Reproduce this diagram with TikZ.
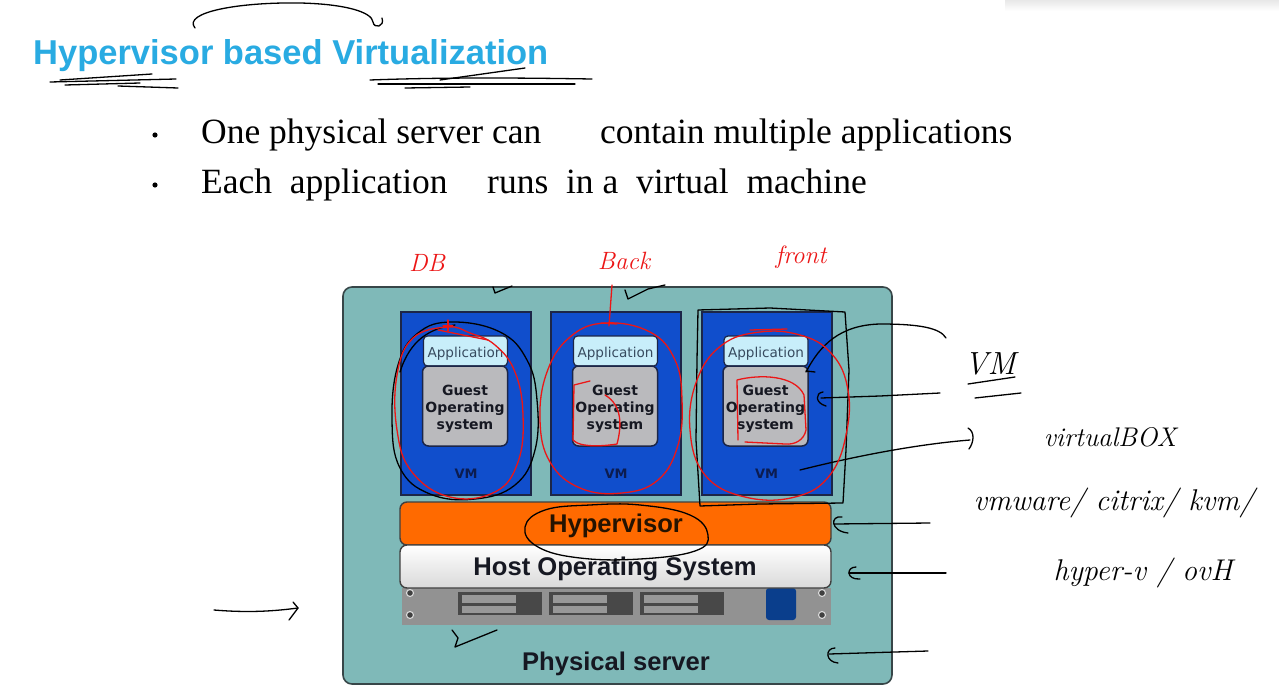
\documentclass[tikz,border=0pt]{standalone}
\usepackage{fontspec}
\setmainfont{Liberation Serif}
\newfontfamily\arialf{Liberation Sans}
\newfontfamily\dejavuf{DejaVu Sans}
\newfontfamily\handf{Latin Modern Roman}
\usetikzlibrary{calc}

\definecolor{titleblue}{RGB}{41,171,226}
\definecolor{servteal}{RGB}{127,185,184}
\definecolor{servedge}{RGB}{55,70,72}
\definecolor{vmblue}{RGB}{16,78,204}
\definecolor{vmedge}{RGB}{28,38,72}
\definecolor{vmlabel}{RGB}{12,28,80}
\definecolor{appfill}{RGB}{200,238,250}
\definecolor{apptext}{RGB}{55,75,95}
\definecolor{guestfill}{RGB}{186,186,189}
\definecolor{hypfill}{RGB}{255,106,0}
\definecolor{hostfill}{RGB}{236,236,236}
\definecolor{rackfill}{RGB}{146,146,146}
\definecolor{baydark}{RGB}{72,72,72}
\definecolor{slotgrey}{RGB}{152,152,152}
\definecolor{btnblue}{RGB}{10,62,140}
\definecolor{inkred}{RGB}{236,22,22}
\definecolor{darktext}{RGB}{22,24,34}

\begin{document}
\begin{tikzpicture}[x=1pt,y=-1pt,
  serverbox/.style={draw=servedge,line width=1.6pt,fill=servteal,rounded corners=9pt,
    inner sep=0pt,outer sep=0pt,minimum width=549pt,minimum height=397pt},
  vmbox/.style={draw=vmedge,line width=2pt,fill=vmblue,inner sep=0pt,outer sep=0pt,
    minimum width=130pt,minimum height=183pt},
  appbox/.style={draw=vmedge,line width=1.2pt,fill=appfill,rounded corners=4pt,inner sep=0pt,
    minimum width=84pt,minimum height=30pt},
  apptxt/.style={anchor=base,inner sep=0pt,text=apptext,font=\dejavuf\fontsize{13.6}{15}\selectfont},
  guestbox/.style={draw=vmedge,line width=1.5pt,fill=guestfill,rounded corners=6pt,inner sep=0pt,
    minimum width=85pt,minimum height=80pt},
  guesttxt/.style={align=center,inner sep=0pt,text=darktext,
    font=\dejavuf\bfseries\fontsize{14}{17}\selectfont},
  vmtext/.style={anchor=base,inner sep=0pt,text=vmlabel,font=\dejavuf\bfseries\fontsize{13}{14}\selectfont},
  layerbar/.style={draw=black!75,line width=1.4pt,rounded corners=7pt,inner sep=0pt,
    minimum width=431pt,minimum height=43pt},
  layertext/.style={anchor=base,inner sep=0pt,font=\arialf\bfseries\fontsize{25.6}{28}\selectfont},
  rackstrip/.style={fill=rackfill,inner sep=0pt,outer sep=0pt,minimum width=429pt,minimum height=37pt},
  bay/.style={fill=baydark,inner sep=0pt,minimum width=84pt,minimum height=23pt},
  screw/.style={circle,fill=black!75,draw=white!85!black,line width=1.1pt,inner sep=0pt,minimum size=7pt},
  bullettext/.style={anchor=base west,inner sep=0pt,font=\fontsize{35.5}{40}\selectfont},
  hand/.style={draw=black,line width=1.3pt,line cap=round,line join=round},
  redhand/.style={draw=inkred,line width=1.3pt,line cap=round,line join=round},
  handtext/.style={inner sep=0pt,font=\handf\itshape\fontsize{30}{32}\selectfont},
  redtext/.style={inner sep=0pt,text=inkred,font=\handf\itshape\fontsize{25}{28}\selectfont}
]
\useasboundingbox (0,0) rectangle (1279,685);
\fill[white] (0,0) rectangle (1279,685);
\shade[top color=black!9,bottom color=white] (1005,0) rectangle (1279,11);

% ---- title and bullet points ----
\node[anchor=base west,inner sep=0pt,text=titleblue,font=\arialf\bfseries\fontsize{34.5}{40}\selectfont]
  (title) at (33,65) {Hypervisor based Virtualization};

\fill (155,135) circle (2.6pt) coordinate (b1);
\fill (155,185) circle (2.6pt) coordinate (b2);
\node[bullettext] (l1a) at (201,143) {One physical server can};
\node[bullettext] (l1b) at (600,143) {contain multiple applications};
\node[bullettext] (l2a) at (201,193) {Each\ \ application};
\node[bullettext] (l2b) at (487,193) {runs\ \ in a\ \ virtual\ \ machine};

% ---- physical server ----
\node[serverbox] (server) at (617.5,485.5) {};

\foreach \i/\x in {1/466,2/616,3/766.5}{
  \node[vmbox] (vm\i) at (\x,403.5) {};
  \node[appbox] (app\i) at (\x-0.5,351) {};
  \node[apptxt] (apptext\i) at (\x-0.5,357) {Application};
  \node[guestbox] (guest\i) at (\x-1,406) {};
  \node[guesttxt] (guesttext\i) at (\x-1,408.5) {Guest\\Operating\\system};
  \node[vmtext] (vmlab\i) at (\x,478) {VM};
}

% rack unit of the server
\node[rackstrip] (rack) at (616.5,606.5) {};
\foreach \x [count=\k] in {458,549,640}{
  \node[bay,anchor=north west] (bay\k) at (\x,592) {};
  \fill[slotgrey] (\x+4,595) rectangle (\x+58,603);
  \fill[slotgrey] (\x+4,606) rectangle (\x+58,613);
}
\node[fill=btnblue,rounded corners=3pt,inner sep=0pt,minimum width=30pt,minimum height=32pt]
  (button) at (781,604) {};
\node[screw] (s1) at (410,593) {};
\node[screw] (s2) at (410,615) {};
\node[screw] (s3) at (822,593) {};
\node[screw] (s4) at (822,615) {};

\node[layerbar,fill=hypfill] (hyper) at (615.5,523.5) {};
\node[layertext,text=black!85!orange] (hypertext) at (616,532.5) {Hypervisor};
\node[layerbar,top color=white,bottom color=hostfill!92!black] (host) at (615.5,566.5) {};
\node[layertext,text=darktext] (hosttext) at (615,575.5) {Host Operating System};
\node[layertext,text=darktext] (phystext) at (616,670.5) {Physical server};

% ---- pen annotations, black ink ----
\draw[hand] (195,28) .. controls (182,12) and (240,2) .. (300,3)
  .. controls (345,4) and (372,12) .. (373,22) .. controls (374,29) and (385,27) .. (382,18);
\draw[hand] (60,80) -- (152,74);
\draw[hand] (50,82) -- (176,79);
\draw[hand] (65,85) -- (140,83);
\draw[hand] (118,86) -- (178,88);
\draw[hand] (370,80) .. controls (450,77) and (530,78) .. (592,79);
\draw[hand] (378,84) -- (575,84);
\draw[hand] (405,88) -- (470,87);
\draw[hand] (440,80) -- (525,68);

\draw[hand] (493,287) -- (495,293) -- (512,286);
\draw[hand] (625,290) -- (628,299) -- (648,289) -- (665,285);

\draw[hand] plot[smooth cycle,tension=0.7] coordinates {(452,322) (418,333) (398,365) (392,420)
  (400,468) (430,494) (475,499) (515,485) (535,450) (537,400) (527,360) (500,332)};
\draw[hand] (400,372) .. controls (410,340) and (430,328) .. (455,325);

\draw[hand] (698,310) -- (770,308) -- (845,312) -- (849,370) -- (846,450) -- (843,503)
  -- (760,504) -- (700,506) -- (696,440) -- (697,360) -- cycle;

\draw[hand] plot[smooth cycle,tension=0.7] coordinates {(590,505) (545,510) (525,527) (538,547)
  (580,558) (640,559) (695,551) (708,535) (690,515) (640,505)};

\draw[hand] (806,372) .. controls (820,345) and (840,325) .. (880,324)
  .. controls (920,324) and (940,328) .. (946,338);
\draw[hand] (806,371) -- (815,372);
\draw[hand] (823,392) .. controls (815,393) and (815,403) .. (826,406);
\draw[hand] (821,398) -- (880,396) -- (940,393);
\draw[hand] (800,470) .. controls (860,455) and (920,444) .. (970,440);
\draw[hand] (968,428) .. controls (975,432) and (974,442) .. (969,449);

\draw[hand] (842,517) .. controls (830,515) and (830,531) .. (848,533);
\draw[hand] (834,524) -- (930,523);
\draw[hand] (856,567) .. controls (846,567) and (846,580) .. (860,579);
\draw[hand] (849,573) -- (946,573);
\draw[hand] (835,648) .. controls (825,648) and (825,662) .. (838,663);
\draw[hand] (829,654) -- (928,651);

\draw[hand] (452,630) -- (458,638) -- (455,647) -- (497,630);
\draw[hand] (214,610) .. controls (250,613) and (275,611) .. (298,608);
\draw[hand] (293,602) -- (298,608) -- (289,620);

\node[handtext,font=\handf\itshape\fontsize{32}{34}\selectfont] (hvm) at (990,364) {VM};
\draw[hand] (968,384) -- (1015,377);
\draw[hand] (975,398) -- (1021,393);
\node[handtext,font=\handf\itshape\fontsize{27}{30}\selectfont] (hvbox) at (1110,437) {virtualBOX};
\node[handtext] (hvmw) at (1114,503) {vmware/ citrix/ kvm/};
\node[handtext] (hhyp) at (1143,573) {hyper-v / ovH};

% ---- pen annotations, red ink ----
\node[redtext] (rdb) at (427,263) {DB};
\node[redtext] (rback) at (624,261) {Back};
\node[redtext] (rfront) at (801,257) {front};

\draw[redhand] (612,285) -- (609,326);
\draw[redhand] (601,323) -- (617,324);
\draw[redhand] (448,320) -- (448,331);
\draw[redhand] (443,326) -- (453,326);
\draw[redhand] plot[smooth cycle,tension=0.7] coordinates {(448,327) (413,338) (397,375) (397,430)
  (412,472) (450,497) (495,492) (518,462) (523,415) (515,372) (495,345) (470,333)};
\draw[redhand] (438,330) -- (488,340);
\draw[redhand] plot[smooth cycle,tension=0.7] coordinates {(605,323) (570,337) (547,372) (540,420)
  (550,462) (580,488) (622,493) (658,480) (678,445) (682,400) (675,360) (650,332)};
\draw[redhand] (590,381) -- (574,385) -- (573,440) .. controls (580,448) and (605,446) .. (617,444)
  .. controls (622,425) and (622,405) .. (605,395);
\draw[redhand] plot[smooth cycle,tension=0.7] coordinates {(760,332) (722,345) (697,380) (690,430)
  (705,475) (745,497) (795,497) (830,475) (847,430) (847,385) (830,352) (800,335)};
\draw[redhand] (738,440) -- (737,380) .. controls (760,374) and (795,375) .. (804,395) -- (806,430)
  .. controls (804,440) and (795,445) .. (785,444) -- (745,442);
\draw[redhand] (750,330) -- (787,329);
\end{tikzpicture}
\end{document}
